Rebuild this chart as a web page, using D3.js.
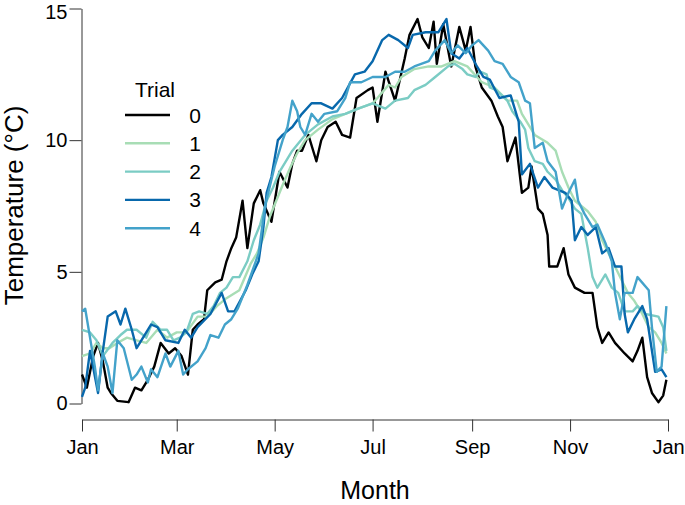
<!DOCTYPE html>
<html lang="en">
  <head>
    <title>Temperature by trial</title>
    <script src="https://d3js.org/d3.v7.min.js"></script>
    <style>
      body { margin: 0; background: #fff; }
      text { font-family: "Liberation Sans", Arial, sans-serif; fill: #000; }
    </style>
    <script>
      // month ticks as day of year
      var monthTicks = [0, 59, 120, 181, 243, 304, 365];
      var monthLabels = ['Jan', 'Mar', 'May', 'Jul', 'Sep', 'Nov', 'Jan'];
      var tempTicks = [0, 5, 10, 15];
      var trials = ['0', '1', '2', '3', '4'];
      var trialColors = ['#000000', '#a8ddb5', '#7bccc4', '#0868ac', '#43a2ca'];

      // readings per trial: day of year, temperature
      var day0 = [0,3,7,10,13,16,18,22,29,33,37,41,45,49,54,58,62,66,69,72,76,78,83,87,90,93,96,100,103,107,111,113,118,123,128,131,134,137,141,146,149,153,158,162,167,171,178,181,184,189,195,201,204,209,212,216,219,221,225,230,235,239,242,245,249,255,259,262,265,270,274,278,280,284,287,290,291,296,300,303,307,313,318,321,324,328,332,338,343,346,349,352,355,359,362,364];
      var temp0 = [1.1,0.6,1.8,2.3,1.6,0.6,0.4,0.1,0.05,0.6,0.5,0.9,1.4,2.3,1.9,2.1,1.8,1.1,2.8,3.0,3.2,4.3,4.6,4.7,5.4,5.9,6.3,7.7,5.9,7.6,8.1,7.6,6.9,8.8,8.2,9.1,9.6,9.6,10.2,9.2,10.0,10.5,10.7,10.2,10.1,11.6,11.9,12.0,10.7,12.6,11.5,13.1,14.0,14.6,13.9,13.5,14.5,12.9,14.4,12.8,14.3,13.4,14.3,12.8,12.0,11.5,10.9,10.5,9.2,10.1,8.0,8.2,9.0,7.4,7.2,6.4,5.2,5.2,5.9,4.9,4.4,4.2,4.2,2.9,2.3,2.7,2.3,1.9,1.6,2.0,2.5,1.0,0.4,0.05,0.3,0.9];

      var day1 = [0,5,9,13,17,22,28,34,40,47,53,59,65,72,78,84,90,98,105,109,113,117,121,125,130,134,139,147,156,164,172,181,184,191,195,199,207,216,224,232,240,249,257,265,271,274,278,282,290,295,299,303,307,315,320,324,328,332,336,340,344,349,353,357,361,364];
      var temp1 = [1.8,1.9,2.3,2.1,2.1,2.3,2.5,2.4,2.3,2.8,2.5,2.7,2.7,3.3,3.3,3.7,4.0,4.3,5.3,5.7,6.3,7.1,7.7,8.3,9.0,9.5,10.0,10.4,10.8,11.0,11.2,11.4,11.6,12.1,12.0,12.4,12.7,12.8,12.8,13.0,12.8,12.2,12.0,11.5,11.5,11.0,10.6,10.2,9.9,9.6,8.8,8.2,7.7,7.3,6.9,6.2,5.7,5.2,4.7,4.2,3.9,3.4,2.9,2.7,2.3,1.9];

      var day2 = [0,5,9,13,19,24,28,34,40,44,49,53,57,61,65,69,73,78,82,86,90,94,98,103,107,111,115,119,123,128,131,139,147,156,164,172,181,189,195,203,207,214,220,228,232,237,240,245,248,252,254,258,265,268,273,276,278,282,287,290,295,299,303,307,311,315,318,321,326,330,334,338,343,346,351,359,362,364];
      var temp2 = [2.8,2.7,2.4,1.8,2.3,2.6,2.8,2.8,2.5,3.1,2.8,2.8,2.4,2.5,2.7,3.4,3.5,3.4,3.7,4.2,4.4,4.8,4.8,5.4,6.2,6.8,7.7,8.2,8.8,9.3,9.6,10.2,10.6,10.9,11.0,11.2,11.4,11.2,11.5,11.6,11.9,12.1,12.4,12.8,12.9,12.7,12.5,12.4,12.6,12.5,12.0,11.9,11.5,11.1,10.7,10.4,9.7,9.2,9.1,8.8,8.5,8.1,7.8,7.4,7.2,5.9,4.8,4.4,4.9,4.4,4.2,3.5,3.5,3.7,3.4,3.3,2.9,2.0];

      var day3 = [0,2,5,10,13,16,21,24,27,31,34,39,43,47,52,60,64,68,72,80,87,91,95,102,106,110,113,115,118,122,125,131,137,143,149,156,162,170,176,181,187,191,197,203,206,214,222,227,230,235,240,246,250,254,260,267,270,272,274,279,284,288,293,301,305,307,311,315,320,324,328,332,336,338,340,344,349,352,357,361,364];
      var temp3 = [0.25,0.6,2.0,0.4,2.0,3.3,3.5,3.0,3.6,2.8,2.1,2.6,3.0,2.9,2.4,2.3,2.8,2.5,2.9,3.4,4.2,3.5,3.5,4.3,4.9,5.4,6.7,8.0,8.6,10.0,10.2,10.5,11.0,11.4,11.4,11.2,11.6,12.5,12.6,13.0,13.8,14.0,13.8,13.5,14.0,14.1,14.1,14.6,13.3,13.1,13.5,12.8,12.4,12.3,11.6,11.7,11.1,10.7,8.7,9.1,8.2,8.6,8.2,8.0,7.7,6.2,6.7,6.4,6.7,5.7,5.9,5.2,5.2,3.4,2.7,3.2,3.7,3.2,1.2,1.3,1.0];

      var day4 = [0,2,5,8,10,13,16,19,22,26,31,34,37,41,43,47,52,55,60,63,66,72,77,80,85,89,93,97,103,110,114,120,125,128,131,134,136,139,143,147,151,159,164,167,174,181,189,195,201,207,216,220,226,230,234,239,243,247,253,257,262,267,272,276,279,282,287,290,295,299,303,307,309,313,318,321,326,330,332,335,338,343,346,353,355,358,361,364];
      var temp4 = [3.5,3.6,2.5,1.4,0.5,1.9,1.4,0.4,2.4,2.1,0.9,1.1,1.4,0.8,1.3,1.0,1.9,1.4,2.0,1.1,1.3,1.6,2.1,2.6,2.5,3.0,3.2,3.6,4.5,5.7,7.5,9.0,10.0,10.5,11.5,11.1,10.5,10.2,11.0,10.7,11.0,11.1,11.6,12.2,12.2,12.4,12.4,12.6,12.6,12.8,13.0,13.4,13.8,13.3,13.6,13.3,13.6,13.8,13.4,13.0,12.9,12.4,12.2,11.5,11.4,9.7,9.9,9.2,8.8,7.4,8.0,8.5,7.7,7.2,6.7,6.8,6.1,5.4,4.2,3.2,4.2,4.2,4.8,4.3,2.9,1.2,1.4,3.7];

      window.onload = () => {
        var days = [day0, day1, day2, day3, day4],
            temps = [temp0, temp1, temp2, temp3, temp4];

        var svg = d3.select('#chart').append('svg')
            .attr('width', 685)
            .attr('height', 505);

        var x = d3.scaleLinear().domain([0, 365]).range([82, 668]),
            y = d3.scaleLinear().domain([0, 15]).range([403.5, 8.5]);

        var xAxis = svg.append('g')
            .attr('transform', 'translate(0,419.5)')
            .call(d3.axisBottom(x).tickValues(monthTicks)
              .tickFormat(function(d, i) { return monthLabels[i]; })
              .tickSize(12).tickSizeOuter(0).tickPadding(8));

        var yAxis = svg.append('g')
            .attr('transform', 'translate(81.5,0)')
            .call(d3.axisLeft(y).tickValues(tempTicks).tickSize(12).tickSizeOuter(0).tickPadding(2));

        [xAxis, yAxis].forEach(function(g) {
          g.attr('font-size', 20).attr('font-family', '"Liberation Sans", Arial, sans-serif');
          g.selectAll('path, line').attr('stroke', '#333').attr('stroke-width', 1);
          g.selectAll('text').attr('fill', '#000');
        });

        // keep the top label inside the page
        yAxis.selectAll('.tick text')
            .filter(function(d) { return d === 15; })
            .attr('dy', '0.5em');

        svg.append('text')
            .attr('x', 375)
            .attr('y', 499)
            .attr('text-anchor', 'middle')
            .attr('font-size', 25)
            .text('Month');

        svg.append('text')
            .attr('transform', 'translate(23,205.5) rotate(-90)')
            .attr('text-anchor', 'middle')
            .attr('font-size', 26)
            .text('Temperature (°C)');

        var line = d3.line()
            .x(function(d) { return x(d[0]); })
            .y(function(d) { return y(d[1]); });

        trials.forEach(function(t, i) {
          var pts = days[i].map(function(d, j) { return [d, temps[i][j]]; });
          svg.append('path')
              .datum(pts)
              .attr('fill', 'none')
              .attr('stroke', trialColors[i])
              .attr('stroke-width', 2.4)
              .attr('stroke-linejoin', 'round')
              .attr('d', line);
        });

        // legend
        var legend = svg.append('g');
        legend.append('text')
            .attr('x', 155)
            .attr('y', 97)
            .attr('text-anchor', 'middle')
            .attr('font-size', 21)
            .text('Trial');

        var rows = legend.selectAll('.row')
          .data(trials)
          .enter().append('g')
            .attr('class', 'row')
            .attr('transform', function(d, i) { return 'translate(0,' + (115 + i * 28.3) + ')'; });

        rows.append('line')
            .attr('x1', 125).attr('x2', 170)
            .attr('stroke', function(d, i) { return trialColors[i]; })
            .attr('stroke-width', 2.4);

        rows.append('text')
            .attr('x', 195)
            .attr('y', 7.5)
            .attr('text-anchor', 'middle')
            .attr('font-size', 21)
            .text(function(d) { return d; });
      };
    </script>
  </head>
  <body>
    <div id="chart"></div>
  </body>
</html>
